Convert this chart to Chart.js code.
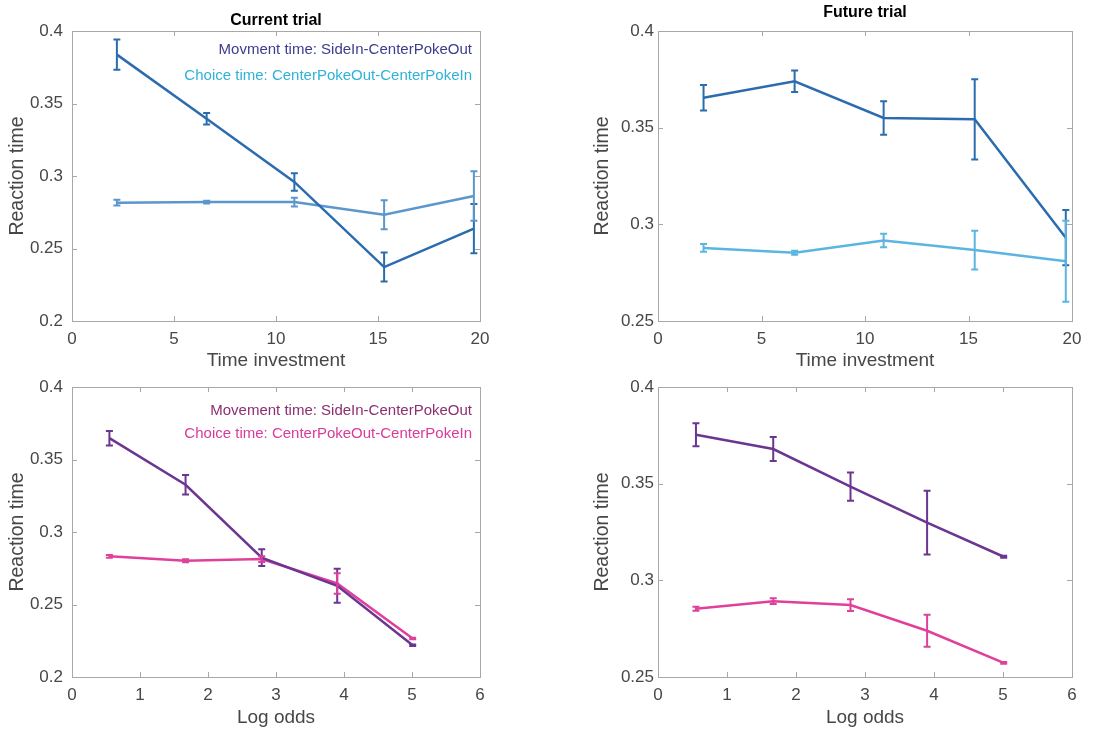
<!DOCTYPE html>
<html>
<head>
<meta charset="utf-8">
<script src="https://cdn.jsdelivr.net/npm/chart.js@4"></script>
<style>
  html, body { margin: 0; padding: 0; background: #ffffff; }
  body { width: 1112px; height: 732px; position: relative; overflow: hidden; }
  canvas { position: absolute; }
</style>
</head>
<body>
<canvas id="c1" width="500" height="375" style="left:0px;top:0px;"></canvas>
<canvas id="c2" width="532" height="375" style="left:560px;top:0px;"></canvas>
<canvas id="c3" width="500" height="352" style="left:0px;top:380px;"></canvas>
<canvas id="c4" width="532" height="352" style="left:560px;top:380px;"></canvas>
<script>
// ---------------- data ----------------
const timeInvestmentX = [2.2, 6.6, 10.9, 15.3, 19.7];
const logOddsX = [0.55, 1.67, 2.79, 3.9, 5.01];

const currentMoveTime = [0.3837, 0.3395, 0.2959, 0.2372, 0.2637];
const currentMoveTimeErr = [0.0105, 0.004, 0.006, 0.01, 0.017];
const currentChoiceTime = [0.2816, 0.2820, 0.2820, 0.2733, 0.2862];
const currentChoiceTimeErr = [0.002, 0.001, 0.003, 0.01, 0.017];

const futureMoveTime = [0.3655, 0.3740, 0.3550, 0.3543, 0.2931];
const futureMoveTimeErr = [0.0066, 0.0056, 0.0087, 0.0208, 0.0143];
const futureChoiceTime = [0.2878, 0.2853, 0.2916, 0.2867, 0.2809];
const futureChoiceTimeErr = [0.002, 0.001, 0.0035, 0.01, 0.021];

const currentMoveOdds = [0.3647, 0.3326, 0.2823, 0.2629, 0.2219];
const currentMoveOddsErr = [0.005, 0.0067, 0.0058, 0.0117, 0.0005];
const currentChoiceOdds = [0.2832, 0.2802, 0.2813, 0.2645, 0.2265];
const currentChoiceOddsErr = [0.001, 0.001, 0.002, 0.007, 0.0005];

const futureMoveOdds = [0.3753, 0.3679, 0.3485, 0.3298, 0.3122];
const futureMoveOddsErr = [0.006, 0.0062, 0.0073, 0.0165, 0.0005];
const futureChoiceOdds = [0.2853, 0.2892, 0.2872, 0.2739, 0.2573];
const futureChoiceOddsErr = [0.001, 0.0015, 0.003, 0.0083, 0.0005];

const titles = ['Current trial', 'Future trial'];
const xTitles = ['Time investment', 'Log odds'];
const yTitle = 'Reaction time';
const legendTop = ['Movment time: SideIn-CenterPokeOut', 'Choice time: CenterPokeOut-CenterPokeIn'];
const legendBottom = ['Movement time: SideIn-CenterPokeOut', 'Choice time: CenterPokeOut-CenterPokeIn'];

// ---------------- styling ----------------
const FONT = "'Liberation Sans', Arial, Helvetica, sans-serif";
const TICK_COLOR = '#474747';
const BOX_COLOR = '#a8a8a8';

const boxPlugin = {
  id: 'matlabBox',
  beforeDatasetsDraw(chart) {
    const {ctx, chartArea: a, scales: {x, y}} = chart;
    ctx.save();
    ctx.strokeStyle = BOX_COLOR;
    ctx.lineWidth = 1;
    ctx.strokeRect(Math.round(a.left) + 0.5, Math.round(a.top) + 0.5,
                   Math.round(a.right - a.left), Math.round(a.bottom - a.top));
    const TL = 5;
    ctx.beginPath();
    x.ticks.forEach(t => {
      const px = Math.round(x.getPixelForValue(t.value)) + 0.5;
      ctx.moveTo(px, a.bottom); ctx.lineTo(px, a.bottom - TL);
      ctx.moveTo(px, a.top); ctx.lineTo(px, a.top + TL);
    });
    y.ticks.forEach(t => {
      const py = Math.round(y.getPixelForValue(t.value)) + 0.5;
      ctx.moveTo(a.left, py); ctx.lineTo(a.left + TL, py);
      ctx.moveTo(a.right, py); ctx.lineTo(a.right - TL, py);
    });
    ctx.stroke();
    ctx.restore();
  }
};

const errorBarPlugin = {
  id: 'errorBars',
  afterDatasetsDraw(chart) {
    const {ctx, scales: {y}} = chart;
    ctx.save();
    chart.data.datasets.forEach((ds, i) => {
      const meta = chart.getDatasetMeta(i);
      if (!ds.errors) return;
      ctx.strokeStyle = ds.borderColor;
      ctx.lineWidth = 2;
      meta.data.forEach((pt, j) => {
        const v = ds.data[j].y, e = ds.errors[j];
        const yt = y.getPixelForValue(v + e), yb = y.getPixelForValue(v - e);
        const cw = 3.5;
        ctx.beginPath();
        ctx.moveTo(pt.x, yt); ctx.lineTo(pt.x, yb);
        ctx.moveTo(pt.x - cw, yt); ctx.lineTo(pt.x + cw, yt);
        ctx.moveTo(pt.x - cw, yb); ctx.lineTo(pt.x + cw, yb);
        ctx.stroke();
      });
    });
    ctx.restore();
  }
};

const textLegendPlugin = {
  id: 'textLegend',
  afterDraw(chart, args, opts) {
    if (!opts || !opts.lines) return;
    const {ctx, chartArea: a} = chart;
    ctx.save();
    ctx.font = '15px ' + FONT;
    ctx.textAlign = 'right';
    ctx.textBaseline = 'middle';
    opts.lines.forEach((l, i) => {
      ctx.fillStyle = l.color;
      ctx.fillText(l.text, a.right - 8, a.top + opts.offsets[i]);
    });
    ctx.restore();
  }
};

function toPoints(xs, ys) { return xs.map((x, i) => ({x: x, y: ys[i]})); }

function makeChart(id, cfg) {
  const datasets = cfg.series.map(s => ({
    label: s.label,
    data: toPoints(cfg.x, s.values),
    errors: s.errors,
    borderColor: s.color,
    backgroundColor: s.color,
    borderWidth: 2.5,
    pointRadius: 0,
    tension: 0,
    fill: false
  }));
  return new Chart(document.getElementById(id), {
    type: 'line',
    data: { datasets },
    plugins: [boxPlugin, errorBarPlugin, textLegendPlugin],
    options: {
      responsive: false,
      animation: false,
      devicePixelRatio: 1,
      layout: { padding: { top: cfg.padTop, right: 20, left: 0, bottom: 0 } },
      plugins: {
        legend: { display: false },
        tooltip: { enabled: false },
        title: cfg.title ? {
          display: true, text: cfg.title, fullSize: false, color: '#000',
          font: { family: FONT, size: 16, weight: 'bold', lineHeight: 1.2 },
          padding: cfg.titlePad
        } : { display: false },
        textLegend: cfg.legend ? { lines: cfg.legend, offsets: cfg.legendOffsets } : {}
      },
      scales: {
        x: {
          type: 'linear', min: cfg.xMin, max: cfg.xMax,
          ticks: { stepSize: cfg.xStep, color: TICK_COLOR, padding: 8,
                   font: { family: FONT, size: 17 } },
          grid: { display: false, drawTicks: false },
          border: { display: false },
          title: { display: true, text: cfg.xTitle, color: TICK_COLOR,
                   font: { family: FONT, size: 19, lineHeight: 1.2 },
                   padding: { top: 0, bottom: 2.6 } },
          afterFit(scale) { scale.height = cfg.xHeight; }
        },
        y: {
          type: 'linear', min: cfg.yMin, max: cfg.yMax,
          ticks: { stepSize: 0.05, color: TICK_COLOR, padding: cfg.yTickPad,
                   font: { family: FONT, size: 17 },
                   callback: v => String(parseFloat(v.toFixed(2))) },
          grid: { display: false, drawTicks: false },
          border: { display: false },
          title: { display: true, text: yTitle, color: TICK_COLOR,
                   font: { family: FONT, size: 19.5, lineHeight: 1.2 },
                   padding: { top: cfg.yTitlePad, bottom: 0 } },
          afterFit(scale) {
            scale.width = cfg.yWidth;
            scale.paddingTop = 0;
            scale.paddingBottom = 0;
          }
        }
      }
    }
  });
}

// Top-left: current trial, time investment
makeChart('c1', {
  x: timeInvestmentX, xMin: 0, xMax: 20, xStep: 5, yMin: 0.2, yMax: 0.4,
  title: titles[0], titlePad: { top: 11.4, bottom: 0.4 }, padTop: 0,
  xTitle: xTitles[0], xHeight: 54, yWidth: 72, yTickPad: 9, yTitlePad: 6.3,
  series: [
    { label: 'Movement time', values: currentMoveTime, errors: currentMoveTimeErr, color: '#2b6cae' },
    { label: 'Choice time', values: currentChoiceTime, errors: currentChoiceTimeErr, color: '#5b97cc' }
  ],
  legend: [ { text: legendTop[0], color: '#3d3c8e' }, { text: legendTop[1], color: '#2fb1d8' } ],
  legendOffsets: [19, 45]
});

// Top-right: future trial, time investment
makeChart('c2', {
  x: timeInvestmentX, xMin: 0, xMax: 20, xStep: 5, yMin: 0.25, yMax: 0.4,
  title: titles[1], titlePad: { top: 3.4, bottom: 8.4 }, padTop: 0,
  xTitle: xTitles[0], xHeight: 54, yWidth: 98, yTickPad: 4, yTitlePad: 31.3,
  series: [
    { label: 'Movement time', values: futureMoveTime, errors: futureMoveTimeErr, color: '#2b6cae' },
    { label: 'Choice time', values: futureChoiceTime, errors: futureChoiceTimeErr, color: '#5bb5e0' }
  ]
});

// Bottom-left: current trial, log odds
makeChart('c3', {
  x: logOddsX, xMin: 0, xMax: 6, xStep: 1, yMin: 0.2, yMax: 0.4,
  title: null, padTop: 7,
  xTitle: xTitles[1], xHeight: 55, yWidth: 72, yTickPad: 9, yTitlePad: 6.3,
  series: [
    { label: 'Movement time', values: currentMoveOdds, errors: currentMoveOddsErr, color: '#6b3592' },
    { label: 'Choice time', values: currentChoiceOdds, errors: currentChoiceOddsErr, color: '#e0409c' }
  ],
  legend: [ { text: legendBottom[0], color: '#8c2f72' }, { text: legendBottom[1], color: '#da3a98' } ],
  legendOffsets: [24, 47]
});

// Bottom-right: future trial, log odds
makeChart('c4', {
  x: logOddsX, xMin: 0, xMax: 6, xStep: 1, yMin: 0.25, yMax: 0.4,
  title: null, padTop: 7,
  xTitle: xTitles[1], xHeight: 55, yWidth: 98, yTickPad: 4, yTitlePad: 31.3,
  series: [
    { label: 'Movement time', values: futureMoveOdds, errors: futureMoveOddsErr, color: '#6b3592' },
    { label: 'Choice time', values: futureChoiceOdds, errors: futureChoiceOddsErr, color: '#e0409c' }
  ]
});
</script>
</body>
</html>
